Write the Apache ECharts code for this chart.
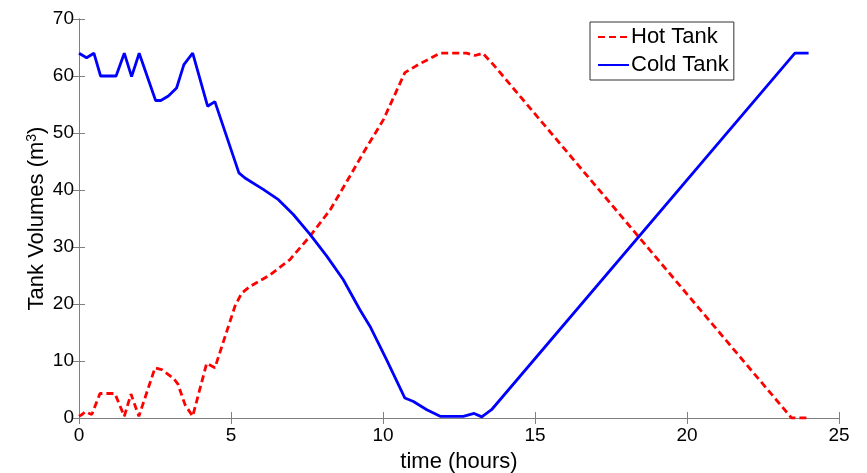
<!DOCTYPE html>
<html>
<head>
<meta charset="utf-8">
<script src="https://cdn.jsdelivr.net/npm/echarts@6/dist/echarts.min.js"></script>
<style>html,body{margin:0;padding:0;background:#fff;}#c{width:867px;height:473px;}</style>
</head>
<body>
<div id="c"></div>
<script>
var hotTime = [0, 0.1, 0.2, 0.42, 0.69, 1.18, 1.49, 1.71, 1.97, 2.5, 2.72, 3.1, 3.25, 3.49, 3.74, 4.2, 4.47, 5.13, 5.35, 5.63, 6.28, 6.94, 7.6, 8.26, 8.91, 9.35, 10.01, 10.72, 11.16, 11.88, 12.75, 13.03, 13.28, 13.63, 23.44, 23.96];
var hotVolume = [0.3, 0.6, 1.1, 0.6, 4.3, 4.3, 0.3, 4.2, 0.3, 8.8, 8.5, 7.0, 6.0, 2.3, 0.3, 9.6, 8.8, 19.6, 21.9, 23.1, 25.1, 27.8, 31.9, 36.5, 42.4, 46.5, 52.3, 60.6, 62.0, 64.0, 64.0, 63.6, 64.0, 62.0, 0, 0];
var coldTime = [0, 0.25, 0.49, 0.71, 1.22, 1.49, 1.73, 1.98, 2.52, 2.69, 2.94, 3.21, 3.45, 3.74, 4.23, 4.47, 5.26, 5.46, 6.06, 6.56, 7.05, 7.6, 8.15, 8.69, 9.24, 9.57, 10.12, 10.72, 11.0, 11.44, 11.88, 12.64, 13.0, 13.25, 13.57, 23.55, 24.0];
var coldVolume = [64, 63.2, 64, 60, 60, 64, 59.9, 64, 55.7, 55.7, 56.5, 57.9, 62, 64, 54.7, 55.5, 43.0, 42.1, 40.1, 38.3, 35.7, 32.2, 28.4, 24.3, 19.0, 16.1, 10.2, 3.5, 2.9, 1.45, 0.3, 0.3, 0.8, 0.2, 1.45, 64, 64];
var xTicks = [0, 5, 10, 15, 20, 25];
var yTicks = [0, 10, 20, 30, 40, 50, 60, 70];

function pairs(xs, ys) { return xs.map(function (x, i) { return [x, ys[i]]; }); }

var font = 'Liberation Sans, Arial, sans-serif';
var axisGray = '#808080';
var chart = echarts.init(document.getElementById('c'));
chart.setOption({
  animation: false,
  backgroundColor: '#ffffff',
  grid: { left: 79, right: 28, top: 19, bottom: 55, containLabel: false, outerBoundsMode: 'none' },
  legend: {
    orient: 'vertical',
    left: 590, top: 22,
    padding: [4, 5, 4, 7],
    itemWidth: 31, itemHeight: 14, itemGap: 6,
    backgroundColor: '#ffffff',
    borderColor: '#333333', borderWidth: 1, borderRadius: 0,
    itemStyle: { color: 'rgba(0,0,0,0)', borderWidth: 0, opacity: 0 },
    textStyle: { fontFamily: font, fontSize: 22, color: '#000', padding: [0, 0, 0, -3] },
    data: ['Hot Tank', 'Cold Tank']
  },
  xAxis: [{
    type: 'value', min: xTicks[0], max: xTicks[xTicks.length - 1], interval: 5,
    name: 'time (hours)', nameLocation: 'middle', nameGap: 33, nameMoveOverlap: false,
    nameTextStyle: { fontFamily: font, fontSize: 22, color: '#000' },
    axisLine: { show: true, lineStyle: { color: axisGray, width: 1 } },
    axisTick: { show: true, inside: true, length: 6, lineStyle: { color: axisGray } },
    axisLabel: { fontFamily: font, fontSize: 19, color: '#000', margin: 8 },
    splitLine: { show: false }
  }, {
    type: 'value', position: 'top', min: 0, max: 25, interval: 5,
    axisLine: { show: true, lineStyle: { color: axisGray, width: 1 } },
    axisTick: { show: true, inside: true, length: 6, lineStyle: { color: axisGray } },
    axisLabel: { show: false }, splitLine: { show: false }
  }],
  yAxis: [{
    type: 'value', min: yTicks[0], max: yTicks[yTicks.length - 1], interval: 10,
    name: 'Tank Volumes (m{sup|3})', nameLocation: 'middle', nameGap: 30, nameMoveOverlap: false,
    nameTextStyle: {
      fontFamily: font, fontSize: 22, color: '#000',
      rich: { sup: { fontFamily: font, fontSize: 14, color: '#000', verticalAlign: 'top', padding: [0, 0, 10, 0] } }
    },
    axisLine: { show: true, lineStyle: { color: axisGray, width: 1 } },
    axisTick: { show: true, inside: true, length: 6, lineStyle: { color: axisGray } },
    axisLabel: { fontFamily: font, fontSize: 19, color: '#000', margin: 5 },
    splitLine: { show: false }
  }, {
    type: 'value', position: 'right', min: 0, max: 70, interval: 10,
    axisLine: { show: true, lineStyle: { color: axisGray, width: 1 } },
    axisTick: { show: true, inside: true, length: 6, lineStyle: { color: axisGray } },
    axisLabel: { show: false }, splitLine: { show: false }
  }],
  series: [{
    name: 'Hot Tank', type: 'line', data: pairs(hotTime, hotVolume),
    showSymbol: false, symbol: 'none', color: '#ff0000',
    lineStyle: { color: '#ff0000', width: 2.8, type: [7, 4] }
  }, {
    name: 'Cold Tank', type: 'line', data: pairs(coldTime, coldVolume),
    showSymbol: false, symbol: 'none', color: '#0000ff',
    lineStyle: { color: '#0000ff', width: 2.8, type: 'solid' }
  }]
});
</script>
</body>
</html>
